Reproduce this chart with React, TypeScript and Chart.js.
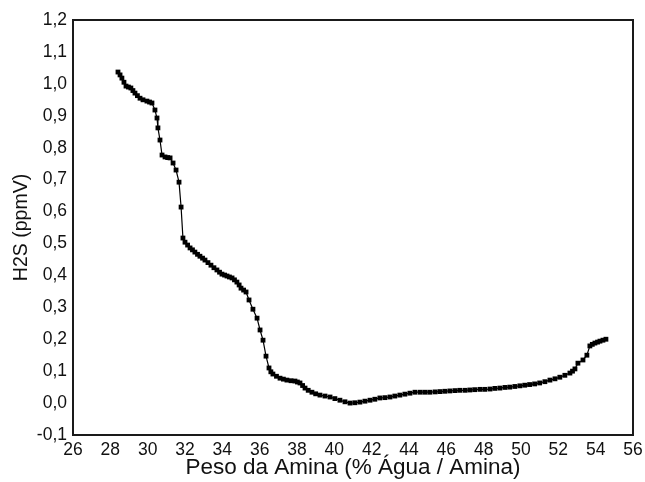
import React, { useEffect, useRef } from "react";
import { Chart, registerables } from "chart.js";

Chart.register(...registerables);

const xValues: number[] = [
  28.41, 28.52, 28.62, 28.73, 28.84, 28.97, 29.1, 29.21, 29.32, 29.45, 29.59, 29.75, 29.96, 30.1, 30.23,
  30.39, 30.5, 30.55, 30.66, 30.77, 30.93, 31.07, 31.2, 31.36, 31.52, 31.68, 31.79, 31.89, 32.0,
  32.14, 32.27, 32.4, 32.53, 32.67, 32.8, 32.94, 33.07, 33.23, 33.39, 33.55, 33.71, 33.85, 33.98,
  34.12, 34.25, 34.38, 34.52, 34.65, 34.78, 34.9, 35.0, 35.14, 35.27, 35.43, 35.64, 35.86, 36.02,
  36.18, 36.34, 36.5, 36.6, 36.71, 36.9, 37.09, 37.27, 37.46, 37.68, 37.89, 38.02, 38.16, 38.3,
  38.43, 38.6, 38.8, 39.0, 39.23, 39.5, 39.77, 40.03, 40.3, 40.57, 40.84, 41.1, 41.37, 41.64,
  41.91, 42.17, 42.44, 42.71, 42.98, 43.24, 43.51, 43.78, 44.05, 44.32, 44.6, 44.86, 45.12, 45.4,
  45.66, 45.92, 46.19, 46.46, 46.72, 47.0, 47.26, 47.52, 47.8, 48.06, 48.34, 48.6, 48.87, 49.14,
  49.4, 49.67, 49.94, 50.2, 50.46, 50.73, 51.0, 51.28, 51.55, 51.82, 52.08, 52.35, 52.62, 52.76,
  52.89, 53.05, 53.32, 53.53, 53.69, 53.82, 53.96, 54.1, 54.23, 54.39, 54.55,
];

const yValues: number[] = [
  1.037, 1.028, 1.018, 1.005, 0.993, 0.99, 0.987, 0.979, 0.971, 0.963, 0.955, 0.95, 0.946, 0.943, 0.94,
  0.918, 0.893, 0.862, 0.824, 0.777, 0.771, 0.769, 0.768, 0.752, 0.73, 0.692, 0.614, 0.517, 0.504,
  0.495, 0.486, 0.48, 0.473, 0.466, 0.46, 0.454, 0.448, 0.44, 0.432, 0.424, 0.417, 0.41, 0.404,
  0.401, 0.398, 0.395, 0.392, 0.386, 0.379, 0.37, 0.36, 0.354, 0.348, 0.323, 0.294, 0.266, 0.229,
  0.197, 0.147, 0.11, 0.098, 0.091, 0.084, 0.078, 0.075, 0.072, 0.07, 0.069, 0.066, 0.063, 0.055,
  0.047, 0.04, 0.034, 0.029, 0.025, 0.022, 0.019, 0.014, 0.009, 0.004, 0.0, 0.001, 0.003, 0.006,
  0.009, 0.012, 0.016, 0.017, 0.019, 0.022, 0.025, 0.028, 0.031, 0.034, 0.034, 0.034, 0.034, 0.035,
  0.036, 0.037, 0.038, 0.039, 0.04, 0.04, 0.041, 0.042, 0.043, 0.043, 0.044, 0.046, 0.047, 0.049,
  0.05, 0.052, 0.054, 0.056, 0.058, 0.06, 0.063, 0.067, 0.072, 0.076, 0.081, 0.087, 0.094, 0.1,
  0.107, 0.125, 0.135, 0.15, 0.179, 0.184, 0.188, 0.191, 0.194, 0.197, 0.2,
];

const xTickStart = 26;
const xTickEnd = 56;
const xTickStep = 2;
const yTickStart = -0.1;
const yTickEnd = 1.2;
const yTickStep = 0.1;

const xTitle = "Peso da Amina (% Água / Amina)";
const yTitle = "H2S (ppmV)";

const framePlugin = {
  id: "frame",
  afterDraw(chart: any) {
    const { ctx, chartArea } = chart;
    ctx.save();
    ctx.strokeStyle = "#1a1a1a";
    ctx.lineWidth = 2;
    ctx.strokeRect(chartArea.left, chartArea.top, chartArea.right - chartArea.left, chartArea.bottom - chartArea.top);
    ctx.restore();
  },
};

export default function App() {
  const ref = useRef<HTMLCanvasElement | null>(null);
  useEffect(() => {
    if (!ref.current) return;
    const data = xValues.map((x, i) => ({ x, y: yValues[i] }));
    const font = "'Liberation Sans', Arial, sans-serif";
    const chart = new Chart(ref.current, {
      type: "line",
      data: {
        datasets: [
          {
            data,
            borderColor: "#000",
            backgroundColor: "#000",
            borderWidth: 1.2,
            pointStyle: "rect",
            pointRadius: 3.4,
            pointBorderWidth: 0,
            pointBackgroundColor: "#000",
            tension: 0,
          },
        ],
      },
      options: {
        responsive: false,
        animation: false,
        layout: { padding: { left: 10, top: 20, right: 12, bottom: 0 } },
        plugins: { legend: { display: false }, tooltip: { enabled: false } },
        scales: {
          x: {
            type: "linear",
            min: xTickStart,
            max: xTickEnd,
            grid: { display: false, drawTicks: false },
            border: { display: false },
            ticks: {
              stepSize: xTickStep,
              padding: 5,
              color: "#111",
              font: { family: font, size: 17.5 },
              maxRotation: 0,
              autoSkip: false,
            },
            title: {
              display: true,
              text: xTitle,
              color: "#111",
              font: { family: font, size: 22.5 },
              padding: { top: 0, bottom: 1 },
            },
            afterFit(scale: any) {
              scale.height = 47;
              scale.paddingRight = 0;
              scale.paddingLeft = 0;
            },
          },
          y: {
            type: "linear",
            min: yTickStart,
            max: yTickEnd,
            grid: { display: false, drawTicks: false },
            border: { display: false },
            ticks: {
              stepSize: yTickStep,
              padding: 6,
              color: "#111",
              font: { family: font, size: 17.5 },
              autoSkip: false,
              callback: (v: any) => Number(v).toFixed(1).replace(".", ","),
            },
            title: {
              display: true,
              text: yTitle,
              color: "#111",
              font: { family: font, size: 19.5 },
              padding: { top: 0, bottom: 0 },
            },
            afterFit(scale: any) {
              scale.width = 63;
              scale.paddingTop = 0;
              scale.paddingBottom = 0;
            },
          },
        },
      },
      plugins: [framePlugin],
    });
    return () => chart.destroy();
  }, []);
  return (
    <div style={{ position: "absolute", left: 0, top: 0, width: 645, height: 482, background: "#fff" }}>
      <canvas ref={ref} width={645} height={482} />
    </div>
  );
}
